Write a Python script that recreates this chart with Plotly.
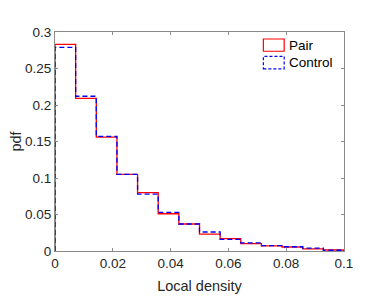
import numpy as np
import plotly.graph_objects as go

# Histogram data (14 bins from 0 to 0.1)
bin_edges = np.linspace(0, 0.1, 15)
pair_vals = [0.283, 0.209, 0.156, 0.105, 0.080, 0.051, 0.037, 0.023, 0.017, 0.010, 0.007, 0.0055, 0.003, 0.0014]
control_vals = [0.279, 0.212, 0.157, 0.105, 0.078, 0.053, 0.037, 0.026, 0.016, 0.011, 0.0075, 0.0058, 0.004, 0.001]
series_names = ["Pair", "Control"]
x_ticks = [0, 0.02, 0.04, 0.06, 0.08, 0.1]
x_tick_labels = ["0", "0.02", "0.04", "0.06", "0.08", "0.1"]
y_ticks = [0, 0.05, 0.1, 0.15, 0.2, 0.25, 0.3]
y_tick_labels = ["0", "0.05", "0.1", "0.15", "0.2", "0.25", "0.3"]


def stairs(vals):
    xs = np.concatenate([[bin_edges[0]], bin_edges[:-1], [bin_edges[-1]]])
    ys = np.concatenate([[0], vals, [0]])
    return xs, ys


fig = go.Figure()
for name, vals, color, dash in [
    (series_names[0], pair_vals, "#ff0000", "solid"),
    (series_names[1], control_vals, "#0000ff", "5px,3px"),
]:
    xs, ys = stairs(vals)
    fig.add_trace(go.Scatter(x=xs, y=ys, mode="lines", name=name,
                             line=dict(color=color, width=1.3, dash=dash, shape="hv"),
                             showlegend=False))

family = "Liberation Sans, Arial, sans-serif"
tick_font = dict(family=family, size=13.5, color="#262626")
title_font = dict(family=family, size=14.5, color="#262626")

axis_common = dict(showline=True, linecolor="#8a8a8a", linewidth=1, mirror="ticks",
                   ticks="inside", ticklen=3, tickcolor="#8a8a8a", showgrid=False,
                   zeroline=False, tickfont=tick_font, automargin=False)

fig.update_layout(
    width=382, height=305,
    margin=dict(l=47, r=46, t=24, b=62),
    paper_bgcolor="white", plot_bgcolor="white",
    xaxis=dict(range=[0, 0.1], tickvals=x_ticks, ticktext=x_tick_labels,
               title=dict(text="Local density", font=title_font, standoff=10), **axis_common),
    yaxis=dict(range=[0, 0.3], tickvals=y_ticks, ticktext=y_tick_labels,
               title=dict(text="pdf", font=title_font, standoff=8), **axis_common),
    font=tick_font,
)

# Legend drawn MATLAB-style (outlined rectangles)
legend_items = [
    (series_names[0], "#ff0000", "solid", 0.912, 0.968),
    (series_names[1], "#0000ff", "3px,2px", 0.832, 0.889),
]
for name, color, dash, y0, y1 in legend_items:
    fig.add_shape(type="rect", xref="paper", yref="paper", x0=0.721, x1=0.793, y0=y0, y1=y1,
                  line=dict(color=color, width=1.2, dash=dash),
                  fillcolor="rgba(0,0,0,0)")
    fig.add_annotation(xref="paper", yref="paper", x=0.802, y=(y0 + y1) / 2, text=name,
                       showarrow=False, xanchor="left", yanchor="middle",
                       font=dict(family=family, size=13.5, color="#000000"))

fig.write_html("out.html")
